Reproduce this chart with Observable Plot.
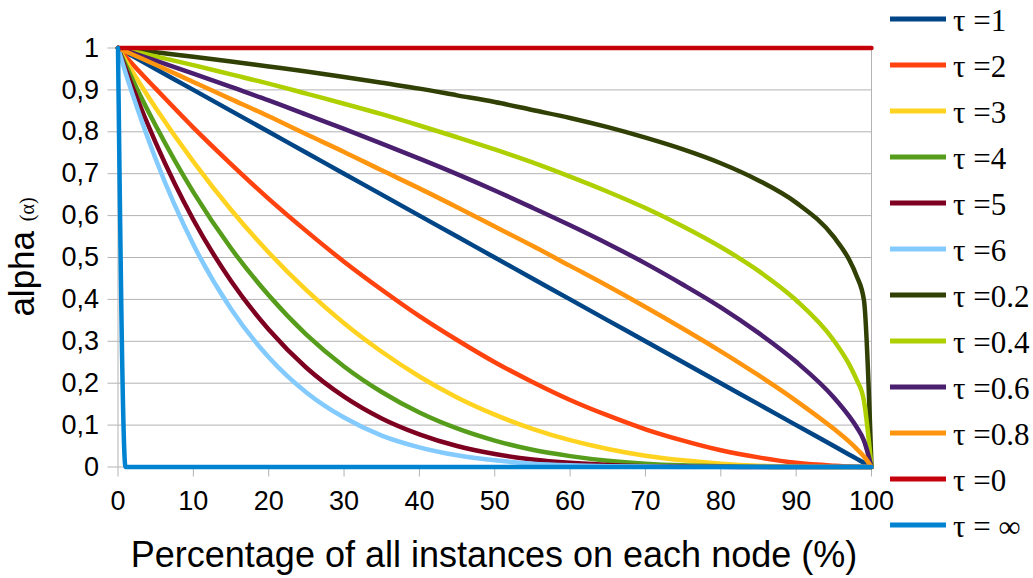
<!DOCTYPE html>
<html><head><meta charset="utf-8">
<script src="https://cdn.jsdelivr.net/npm/d3@7"></script>
<script src="https://cdn.jsdelivr.net/npm/@observablehq/plot@0.6"></script>
<style>
body{margin:0;background:#fff;}
#wrap{position:relative;width:1033px;height:578px;overflow:hidden;background:#fff;}
#wrap svg{position:absolute;left:0;top:0;}
</style></head><body><div id="wrap"></div>
<script>
// x positions (percentage of all instances on each node)
const xs = [0,1,2,5,10,15,20,25,30,35,40,45,50,55,60,65,70,75,80,85,90,95,97,98,99,100];

const seriesLabels = ["τ =1","τ =2","τ =3","τ =4","τ =5","τ =6","τ =0.2","τ =0.4","τ =0.6","τ =0.8","τ =0","τ = ∞"];
const seriesColors = ["#004586","#ff420e","#ffd320","#579d1c","#7e0021","#83caff","#314004","#aecf00","#4b1f6f","#ff950e","#c5000b","#0084d1"];

const tau1 = [1,0.99,0.98,0.95,0.9,0.85,0.8,0.75,0.7,0.65,0.6,0.55,0.5,0.45,0.4,0.35,0.3,0.25,0.2,0.15,0.1,0.05,0.03,0.02,0.01,0];
const tau2 = [1,0.980,0.960,0.903,0.810,0.723,0.640,0.563,0.490,0.423,0.360,0.303,0.250,0.203,0.160,0.123,0.090,0.063,0.040,0.023,0.010,0.003,0.001,0.0004,0.0001,0];
const tau3 = [1,0.970,0.941,0.857,0.729,0.614,0.512,0.422,0.343,0.275,0.216,0.166,0.125,0.091,0.064,0.043,0.027,0.016,0.008,0.003,0.001,0.0001,0,0,0,0];
const tau4 = [1,0.961,0.922,0.815,0.656,0.522,0.410,0.316,0.240,0.179,0.130,0.092,0.063,0.041,0.026,0.015,0.008,0.004,0.002,0.0005,0.0001,0,0,0,0,0];
const tau5 = [1,0.951,0.904,0.774,0.590,0.444,0.328,0.237,0.168,0.116,0.078,0.050,0.031,0.018,0.010,0.005,0.002,0.001,0.0003,0.0001,0,0,0,0,0,0];
const tau6 = [1,0.941,0.886,0.735,0.531,0.377,0.262,0.178,0.118,0.075,0.047,0.028,0.016,0.008,0.004,0.002,0.001,0.0002,0.0001,0,0,0,0,0,0,0];
const tau02 = [1,0.998,0.996,0.990,0.979,0.968,0.956,0.944,0.931,0.917,0.903,0.887,0.871,0.852,0.833,0.811,0.786,0.758,0.725,0.684,0.631,0.549,0.496,0.457,0.398,0];
const tau04 = [1,0.996,0.992,0.980,0.959,0.937,0.915,0.891,0.867,0.842,0.815,0.787,0.758,0.727,0.693,0.657,0.618,0.574,0.525,0.468,0.398,0.302,0.246,0.209,0.158,0];
const tau06 = [1,0.994,0.988,0.970,0.939,0.907,0.875,0.841,0.807,0.772,0.736,0.699,0.660,0.619,0.577,0.533,0.486,0.435,0.381,0.320,0.251,0.166,0.122,0.096,0.063,0];
const tau08 = [1,0.992,0.984,0.960,0.919,0.878,0.837,0.794,0.752,0.708,0.665,0.620,0.574,0.528,0.480,0.432,0.382,0.330,0.276,0.219,0.158,0.091,0.061,0.044,0.025,0];
const tau0 = [1,1,1,1,1,1,1,1,1,1,1,1,1,1,1,1,1,1,1,1,1,1,1,1,1,1];
const tauInf = [1,0,0,0,0,0,0,0,0,0,0,0,0,0,0,0,0,0,0,0,0,0,0,0,0,0];

const seriesValues = [tau1,tau2,tau3,tau4,tau5,tau6,tau02,tau04,tau06,tau08,tau0,tauInf];

const xTicks = [0,10,20,30,40,50,60,70,80,90,100];
const yTicks = [0,0.1,0.2,0.3,0.4,0.5,0.6,0.7,0.8,0.9,1];
const yTickLabels = ["0","0,1","0,2","0,3","0,4","0,5","0,6","0,7","0,8","0,9","1"];

const xTitle = "Percentage of all instances on each node (%)";
const yTitleMain = "alpha";
const yTitleSub = "(α)";

// long table for the line mark, in legend order (later series drawn on top)
const rows = [];
seriesLabels.forEach((s, i) => xs.forEach((x, j) => rows.push({x, y: seriesValues[i][j], s})));

const grey = "#b3b3b3";
const plot = Plot.plot({
  width: 1033, height: 578,
  marginLeft: 117.5, marginRight: 162, marginTop: 47.5, marginBottom: 111.5,
  style: {fontFamily: "'Liberation Sans', Arial, sans-serif", fontSize: "27px", background: "white", color: "black"},
  x: {domain: [0, 100]},
  y: {domain: [0, 1]},
  color: {domain: seriesLabels, range: seriesColors},
  marks: [
    Plot.gridY(yTicks, {stroke: grey, strokeOpacity: 1, strokeWidth: 1}),
    Plot.ruleX([0, 100], {stroke: grey, strokeWidth: 1}),
    Plot.axisY(yTicks, {tickSize: 10, tickPadding: 9, stroke: grey, strokeOpacity: 1, label: null,
      tickFormat: d => yTickLabels[yTicks.indexOf(d)]}),
    Plot.axisX(xTicks, {tickSize: 10, tickPadding: 14, stroke: grey, strokeOpacity: 1, label: null}),
    Plot.line(rows, {x: "x", y: "y", z: "s", stroke: "s", strokeWidth: 4.5, curve: "monotone-x"})
  ]
});
document.getElementById("wrap").appendChild(plot);

// titles and legend overlay
const svg = d3.select(plot);
svg.append("text")
  .attr("x", 494).attr("y", 567)
  .attr("text-anchor", "middle")
  .style("font-family", "'Liberation Sans', Arial, sans-serif")
  .style("font-size", "36px").attr("fill", "black")
  .text(xTitle);

const yt = svg.append("text")
  .attr("transform", "translate(34,257) rotate(-90)")
  .attr("text-anchor", "middle")
  .style("font-family", "'Liberation Sans', Arial, sans-serif")
  .attr("fill", "black");
yt.append("tspan").style("font-size", "35px").text(yTitleMain + " ");
yt.append("tspan").style("font-size", "20px").style("font-family", "'Liberation Serif', serif").text(yTitleSub);

const lg = svg.append("g").attr("text-anchor", "start");
seriesLabels.forEach((s, i) => {
  const cy = 19 + 46 * i;
  lg.append("line").attr("x1", 890).attr("x2", 946).attr("y1", cy).attr("y2", cy)
    .attr("stroke", seriesColors[i]).attr("stroke-width", 5);
  lg.append("text").attr("x", 953).attr("y", cy + 12)
    .attr("text-anchor", "start")
    .style("font-family", "'Liberation Serif', 'Times New Roman', serif")
    .style("font-size", "31px").attr("fill", "black").text(s);
});
</script>
</body></html>
